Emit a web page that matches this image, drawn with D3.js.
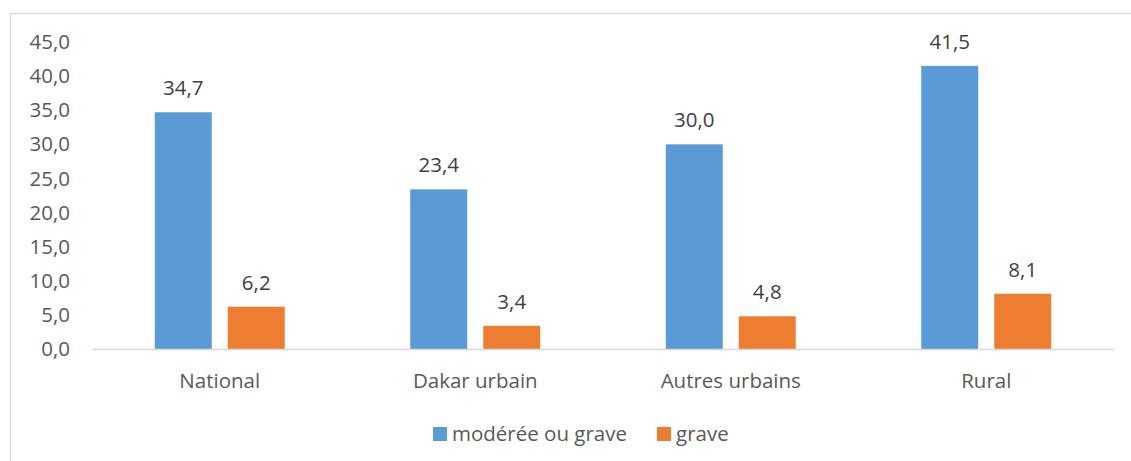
<!DOCTYPE html>
<html>
<head>
<meta charset="utf-8">
<script src="https://cdn.jsdelivr.net/npm/d3@7"></script>
<style>
  html, body { margin: 0; padding: 0; background: #fff; }
  svg text { font-family: "Open Sans", "Noto Sans", sans-serif; }
</style>
</head>
<body>
<svg id="chart" width="1131" height="461"></svg>
<script>
// Prévalence de l'insécurité alimentaire par milieu de résidence (%)
const categories = ["National", "Dakar urbain", "Autres urbains", "Rural"];
const seriesNames = ["modérée ou grave", "grave"];
const moderateOrSevere = [34.7, 23.4, 30.0, 41.5];
const severe = [6.2, 3.4, 4.8, 8.1];
const yTicks = [0, 5, 10, 15, 20, 25, 30, 35, 40, 45];
const colors = ["#5b9bd5", "#ed7d31"];

const svg = d3.select("#chart");
const W = 1131, H = 461;
const FS = 20.5;

// chart frame
svg.append("rect")
  .attr("x", 10.5).attr("y", 13.5)
  .attr("width", W + 10).attr("height", H + 10)
  .attr("fill", "none").attr("stroke", "#d9d9d9").attr("stroke-width", 1.3);

const plot = { left: 92, right: 1114, top: 42, bottom: 349 };

const x0 = d3.scaleBand().domain(categories)
  .range([plot.left, plot.right]).paddingInner(0).paddingOuter(0);
const x1 = d3.scaleBand().domain(seriesNames)
  .range([0, x0.bandwidth()]).paddingInner(0.219).paddingOuter(0.86);
const y = d3.scaleLinear().domain([0, 45]).range([plot.bottom, plot.top]);

const fmt = v => d3.format(".1f")(v).replace(".", ",");

// y axis labels
const yAxis = d3.axisLeft(y).tickValues(yTicks).tickFormat(fmt).tickSize(0).tickPadding(0);
const ya = svg.append("g").attr("transform", `translate(${plot.left - 22},0)`).call(yAxis);
ya.select(".domain").remove();
ya.selectAll("text").attr("font-size", FS).attr("fill", "#595959")
  .attr("font-family", "'Open Sans', sans-serif");

// bars
const rows = categories.map((c, i) => ({ cat: c, vals: [moderateOrSevere[i], severe[i]] }));
const groups = svg.append("g").selectAll("g").data(rows).join("g")
  .attr("transform", d => `translate(${x0(d.cat)},0)`);

groups.selectAll("rect")
  .data(d => d.vals.map((v, j) => ({ s: seriesNames[j], v, j })))
  .join("rect")
  .attr("x", d => x1(d.s))
  .attr("width", x1.bandwidth())
  .attr("y", d => y(d.v))
  .attr("height", d => y(0) - y(d.v))
  .attr("fill", d => colors[d.j]);

groups.selectAll("text.val")
  .data(d => d.vals.map((v, j) => ({ s: seriesNames[j], v, j })))
  .join("text")
  .attr("class", "val")
  .attr("x", d => x1(d.s) + x1.bandwidth() / 2)
  .attr("y", d => y(d.v) - 17)
  .attr("text-anchor", "middle")
  .attr("font-size", FS)
  .attr("fill", "#404040")
  .text(d => fmt(d.v));

// x axis
const xAxis = d3.axisBottom(x0).tickSize(0).tickPadding(0);
const xa = svg.append("g").attr("transform", `translate(0,${plot.bottom})`).call(xAxis);
xa.select(".domain").attr("stroke", "#d9d9d9").attr("stroke-width", 1.5);
xa.selectAll("text").attr("font-size", FS).attr("fill", "#595959")
  .attr("dy", "0").attr("y", 39)
  .attr("font-family", "'Open Sans', sans-serif");

// legend
const legend = svg.append("g");
const legendItems = [
  { name: seriesNames[0], color: colors[0], x: 433 },
  { name: seriesNames[1], color: colors[1], x: 657 }
];
legendItems.forEach(it => {
  legend.append("rect").attr("x", it.x).attr("y", 427)
    .attr("width", 14).attr("height", 14).attr("fill", it.color);
  legend.append("text").attr("x", it.x + 19).attr("y", 441)
    .attr("font-size", FS).attr("fill", "#595959").text(it.name);
});
</script>
</body>
</html>
